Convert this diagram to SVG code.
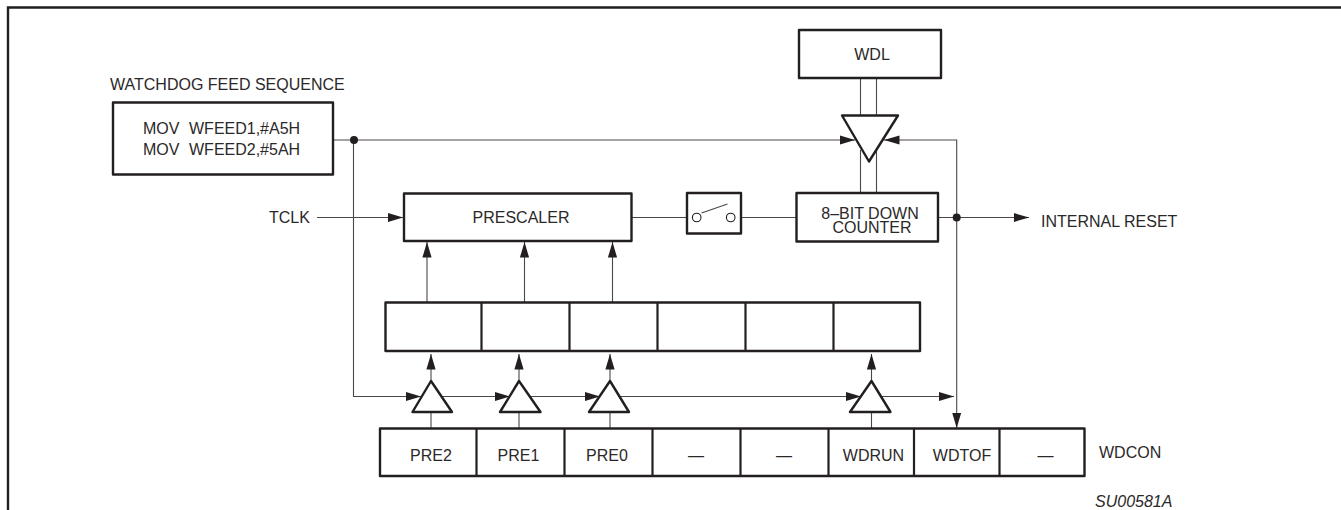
<svg xmlns="http://www.w3.org/2000/svg" width="1341" height="510" viewBox="0 0 1341 510">
<defs>
<style>
text{font-family:"Liberation Sans",Arial,sans-serif;font-size:16px;fill:#2b2829}
.m{text-anchor:middle}
.box{fill:#fff;stroke:#231f20;stroke-width:2.4;stroke-linejoin:round}
.div{fill:none;stroke:#231f20;stroke-width:2.2}
.w{fill:none;stroke:#4a4748;stroke-width:1.1}
.a{marker-end:url(#ah)}
.dot{fill:#231f20;stroke:none}
</style>
<marker id="ah" markerUnits="userSpaceOnUse" markerWidth="16" markerHeight="12" refX="15.5" refY="6" orient="auto"><path d="M0 1.4L15.5 6L0 10.6z" fill="#231f20"/></marker>
</defs>
<rect width="1341" height="510" fill="#fff"/>
<path id="frame" d="M8 510V7.5H1341" fill="none" stroke="#231f20" stroke-width="2.4"/>
<g id="connectors">
<path class="w" d="M860.5 78V116M876.5 78V116M860.5 150V193M876.5 150V193"/>
<path class="w a" d="M333 140H855"/>
<path class="w a" d="M956.7 217.5V140H884"/>
<path class="w a" d="M956.7 217.5V428"/>
<path class="w a" d="M353.5 140V396.5H421"/>
<path class="w a" d="M442 396.5H510"/>
<path class="w a" d="M531 396.5H600"/>
<path class="w a" d="M620 396.5H861"/>
<path class="w a" d="M881 396.5H954"/>
<path class="w a" d="M317 217.5H403"/>
<path class="w" d="M631 217.5H692M736 217.5H797M938 217.5H957"/>
<path class="w a" d="M957 217.5H1029"/>
<path class="w a" d="M427 302.5V242"/>
<path class="w a" d="M524.5 302.5V242"/>
<path class="w a" d="M612.5 302.5V242"/>
<path class="w a" d="M431 381V354"/>
<path class="w a" d="M519 381V354"/>
<path class="w a" d="M610 381V354"/>
<path class="w a" d="M871.5 381V354"/>
<path class="w" d="M431 412V428M519 412V428M610 412V428M871.5 412V428"/>
<circle class="dot" cx="354" cy="140" r="4"/>
<circle class="dot" cx="956.7" cy="217.5" r="4"/>
</g>
<g id="feed-label"><text x="110" y="90">WATCHDOG FEED SEQUENCE</text></g>
<g id="feed"><rect class="box" x="113" y="102.5" width="220" height="72"/>
<text y="134"><tspan x="143">MOV</tspan><tspan x="189">WFEED1,#A5H</tspan></text>
<text y="154.5"><tspan x="143">MOV</tspan><tspan x="189">WFEED2,#5AH</tspan></text></g>
<g id="wdl"><rect class="box" x="799" y="30" width="142" height="48"/><text class="m" x="872" y="60">WDL</text></g>
<g id="buffer"><path class="box" d="M842 115.5H898L869 161.5z"/></g>
<g id="tclk"><text x="269" y="223">TCLK</text></g>
<g id="prescaler"><rect class="box" x="404" y="193.5" width="227.5" height="47.5"/><text class="m" x="521" y="223">PRESCALER</text></g>
<g id="switch"><rect class="box" x="687" y="193" width="54" height="40.5"/>
<path class="w" d="M701.5 213L727.5 204"/>
<circle cx="696.7" cy="217.5" r="4.3" fill="#fff" stroke="#231f20" stroke-width="1.1"/>
<circle cx="730.7" cy="217.5" r="4.3" fill="#fff" stroke="#231f20" stroke-width="1.1"/></g>
<g id="counter"><rect class="box" x="796.5" y="193" width="141.5" height="48.5"/>
<text class="m" x="870" y="218.5">8–BIT DOWN</text><text class="m" x="872" y="232.5">COUNTER</text></g>
<g id="reset-label"><text x="1041" y="227">INTERNAL RESET</text></g>
<g id="register"><rect class="box" x="385.5" y="302.5" width="534.5" height="48.5"/>
<path class="div" d="M481.5 302.5V351M569.5 302.5V351M657.5 302.5V351M745.5 302.5V351M833.5 302.5V351"/></g>
<g id="gate-pre2"><path class="box" d="M431 381L452 412H412.5z"/></g>
<g id="gate-pre1"><path class="box" d="M519 381L540.5 412H500z"/></g>
<g id="gate-pre0"><path class="box" d="M610 381L629 412H589z"/></g>
<g id="gate-wdrun"><path class="box" d="M871.5 381L890.5 412H850z"/></g>
<g id="wdcon"><rect class="box" x="380" y="428.5" width="704.5" height="47.5"/>
<path class="div" d="M476.5 428.5V476M564.5 428.5V476M652.5 428.5V476M740.5 428.5V476M828.5 428.5V476M914 428.5V476M999.5 428.5V476"/>
<text class="m" x="431" y="461">PRE2</text>
<text class="m" x="518.5" y="461">PRE1</text>
<text class="m" x="607" y="461">PRE0</text>
<text class="m" x="696" y="461">—</text>
<text class="m" x="784" y="461">—</text>
<text class="m" x="873.5" y="461">WDRUN</text>
<text class="m" x="962" y="461">WDTOF</text>
<text class="m" x="1045.5" y="461">—</text></g>
<g id="wdcon-label"><text x="1099" y="457.5">WDCON</text></g>
<text x="1095" y="507" font-style="italic">SU00581A</text>
</svg>
